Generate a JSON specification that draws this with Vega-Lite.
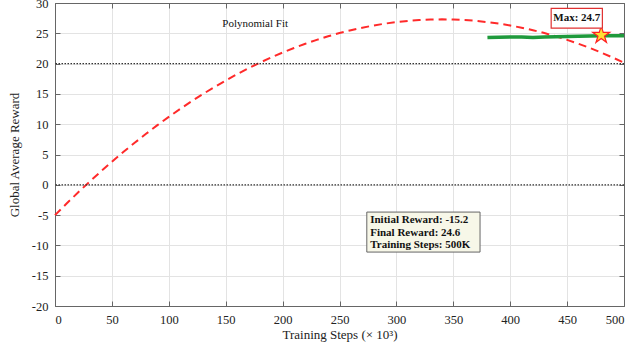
{
  "$schema": "https://vega.github.io/schema/vega-lite/v6.json",
  "width": 569,
  "height": 303,
  "autosize": {"type": "none"},
  "padding": {"left": 55, "top": 3, "right": 8, "bottom": 43},
  "background": "white",
  "config": {
    "font": "Liberation Serif",
    "view": {"stroke": "#666666", "strokeWidth": 1},
    "axis": {
      "labelFont": "Liberation Serif",
      "titleFont": "Liberation Serif",
      "labelFontSize": 12.5,
      "titleFontSize": 13,
      "titleFontWeight": "normal",
      "labelColor": "#222",
      "titleColor": "#222",
      "gridColor": "#e3e3e3",
      "domainColor": "#666666",
      "tickColor": "#666666"
    }
  },
  "resolve": {"axis": {"x": "independent", "y": "independent"}},
  "datasets": {
    "fit": [
      {"step": 0, "reward": -5.0}, {"step": 10, "reward": -3.13}, {"step": 20, "reward": -1.31},
      {"step": 30, "reward": 0.45}, {"step": 40, "reward": 2.15}, {"step": 50, "reward": 3.8},
      {"step": 60, "reward": 5.4}, {"step": 70, "reward": 6.93}, {"step": 80, "reward": 8.41},
      {"step": 90, "reward": 9.84}, {"step": 100, "reward": 11.21}, {"step": 110, "reward": 12.52},
      {"step": 120, "reward": 13.78}, {"step": 130, "reward": 14.98}, {"step": 140, "reward": 16.12},
      {"step": 150, "reward": 17.21}, {"step": 160, "reward": 18.25}, {"step": 170, "reward": 19.23},
      {"step": 180, "reward": 20.15}, {"step": 190, "reward": 21.01}, {"step": 200, "reward": 21.82},
      {"step": 210, "reward": 22.58}, {"step": 220, "reward": 23.28}, {"step": 230, "reward": 23.92},
      {"step": 240, "reward": 24.51}, {"step": 250, "reward": 25.04}, {"step": 260, "reward": 25.51},
      {"step": 270, "reward": 25.93}, {"step": 280, "reward": 26.29}, {"step": 290, "reward": 26.6},
      {"step": 300, "reward": 26.85}, {"step": 310, "reward": 27.05}, {"step": 320, "reward": 27.19},
      {"step": 330, "reward": 27.27}, {"step": 340, "reward": 27.3}, {"step": 350, "reward": 27.27},
      {"step": 360, "reward": 27.19}, {"step": 370, "reward": 27.05}, {"step": 380, "reward": 26.85},
      {"step": 390, "reward": 26.6}, {"step": 400, "reward": 26.29}, {"step": 410, "reward": 25.93},
      {"step": 420, "reward": 25.51}, {"step": 430, "reward": 25.04}, {"step": 440, "reward": 24.51},
      {"step": 450, "reward": 23.92}, {"step": 460, "reward": 23.28}, {"step": 470, "reward": 22.58},
      {"step": 480, "reward": 21.82}, {"step": 490, "reward": 21.01}, {"step": 500, "reward": 20.15}
    ],
    "actual": [
      {"step": 380, "reward": 24.3}, {"step": 390, "reward": 24.35}, {"step": 400, "reward": 24.4},
      {"step": 410, "reward": 24.38}, {"step": 420, "reward": 24.32}, {"step": 430, "reward": 24.4},
      {"step": 440, "reward": 24.45}, {"step": 450, "reward": 24.47}, {"step": 460, "reward": 24.5},
      {"step": 470, "reward": 24.55}, {"step": 480, "reward": 24.6}, {"step": 490, "reward": 24.6},
      {"step": 500, "reward": 24.6}
    ],
    "refs": [{"level": 20}, {"level": 0}],
    "maxpt": [{"step": 480, "reward": 24.7}],
    "maxbox": [{"x1": 436, "x2": 481, "y1": 25.85, "y2": 29.1, "cx": 458.5, "cy": 27.45, "label": "Max: 24.7"}],
    "infobox": [{"x1": 274, "x2": 373.5, "y1": -11.1, "y2": -4.5}],
    "infotext": [
      {"step": 277, "reward": -5.8, "label": "Initial Reward: -15.2"},
      {"step": 277, "reward": -7.9, "label": "Final Reward: 24.6"},
      {"step": 277, "reward": -10.0, "label": "Training Steps: 500K"}
    ],
    "fitlabel": [{"step": 147, "reward": 26.5, "label": "Polynomial Fit"}]
  },
  "layer": [
    {
      "data": {"name": "fit"},
      "mark": {"type": "line", "color": "#ff2a2a", "strokeWidth": 2, "strokeDash": [8, 5]},
      "encoding": {
        "x": {"field": "step", "type": "quantitative",
              "scale": {"domain": [0, 500], "nice": false},
              "axis": {"title": "Training Steps (× 10³)", "values": [0,50,100,150,200,250,300,350,400,450,500],
                       "labelFont": "Liberation Serif", "labelFontSize": 12.5,
                       "tickSize": -5, "labelPadding": 12, "titlePadding": 3, "grid": true, "labelOverlap": false}},
        "y": {"field": "reward", "type": "quantitative",
              "scale": {"domain": [-20, 30], "nice": false},
              "axis": {"title": "Global Average Reward", "values": [-20,-15,-10,-5,0,5,10,15,20,25,30],
                       "labelFont": "Liberation Serif", "labelFontSize": 12.5,
                       "labelExpr": "replace(datum.label, '−', '-')",
                       "tickSize": -5, "labelPadding": 12, "titlePadding": 10, "grid": true, "labelOverlap": false}}
      }
    },
    {
      "data": {"name": "maxpt"},
      "mark": {"type": "point", "opacity": 0},
      "encoding": {
        "x": {"field": "step", "type": "quantitative",
              "axis": {"orient": "top", "title": null, "labels": false, "grid": false, "tickSize": -5,
                       "values": [0,50,100,150,200,250,300,350,400,450,500]}},
        "y": {"field": "reward", "type": "quantitative",
              "axis": {"orient": "right", "title": null, "labels": false, "grid": false, "tickSize": -5,
                       "values": [-20,-15,-10,-5,0,5,10,15,20,25,30]}}
      }
    },
    {
      "data": {"name": "refs"},
      "mark": {"type": "rule", "color": "#333333", "strokeWidth": 1.2, "strokeDash": [1.5, 1.5]},
      "encoding": {"y": {"field": "level", "type": "quantitative", "axis": null}}
    },
    {
      "data": {"name": "actual"},
      "mark": {"type": "line", "color": "#1f9a3c", "strokeWidth": 3.5},
      "encoding": {
        "x": {"field": "step", "type": "quantitative", "axis": null},
        "y": {"field": "reward", "type": "quantitative", "axis": null}
      }
    },
    {
      "data": {"name": "maxpt"},
      "mark": {"type": "point", "shape": "M0,-1L0.2245,-0.309L0.951,-0.309L0.363,0.118L0.588,0.809L0,0.382L-0.588,0.809L-0.363,0.118L-0.951,-0.309L-0.2245,-0.309Z",
               "filled": true, "fill": "#ffe033", "stroke": "#ff2020", "strokeWidth": 1.2, "size": 320, "opacity": 1},
      "encoding": {
        "x": {"field": "step", "type": "quantitative", "axis": null},
        "y": {"field": "reward", "type": "quantitative", "axis": null}
      }
    },
    {
      "data": {"name": "maxbox"},
      "mark": {"type": "rect", "fill": "white", "stroke": "#e03030", "strokeWidth": 1.2},
      "encoding": {
        "x": {"field": "x1", "type": "quantitative", "axis": null},
        "x2": {"field": "x2"},
        "y": {"field": "y1", "type": "quantitative", "axis": null},
        "y2": {"field": "y2"}
      }
    },
    {
      "data": {"name": "maxbox"},
      "mark": {"type": "text", "font": "Liberation Serif", "fontSize": 11, "fontWeight": "bold", "color": "#111", "align": "center", "baseline": "middle"},
      "encoding": {
        "x": {"field": "cx", "type": "quantitative", "axis": null},
        "y": {"field": "cy", "type": "quantitative", "axis": null},
        "text": {"field": "label"}
      }
    },
    {
      "data": {"name": "infobox"},
      "mark": {"type": "rect", "fill": "#f7f7e8", "stroke": "#666666", "strokeWidth": 1},
      "encoding": {
        "x": {"field": "x1", "type": "quantitative", "axis": null},
        "x2": {"field": "x2"},
        "y": {"field": "y1", "type": "quantitative", "axis": null},
        "y2": {"field": "y2"}
      }
    },
    {
      "data": {"name": "infotext"},
      "mark": {"type": "text", "font": "Liberation Serif", "fontSize": 11, "fontWeight": "bold", "color": "#111", "align": "left", "baseline": "middle"},
      "encoding": {
        "x": {"field": "step", "type": "quantitative", "axis": null},
        "y": {"field": "reward", "type": "quantitative", "axis": null},
        "text": {"field": "label"}
      }
    },
    {
      "data": {"name": "fitlabel"},
      "mark": {"type": "text", "font": "Liberation Serif", "fontSize": 11, "color": "#111", "align": "left", "baseline": "middle"},
      "encoding": {
        "x": {"field": "step", "type": "quantitative", "axis": null},
        "y": {"field": "reward", "type": "quantitative", "axis": null},
        "text": {"field": "label"}
      }
    }
  ]
}
